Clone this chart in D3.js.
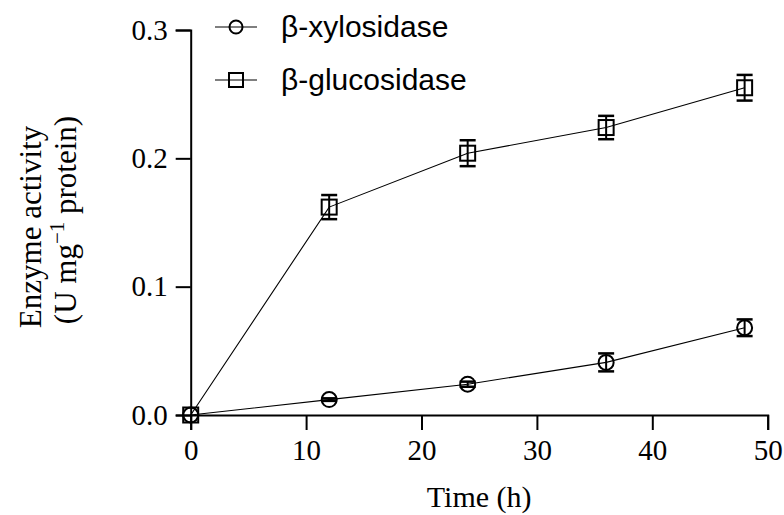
<!DOCTYPE html>
<html><head><meta charset="utf-8">
<script src="https://cdn.jsdelivr.net/npm/d3@7"></script>
<style>body{margin:0;background:#fff}svg{display:block}</style>
</head><body><svg id="c" width="784" height="515"></svg>
<script>
const times = [0, 12, 24, 36, 48];
const xylosidase = [0, 0.012, 0.024, 0.041, 0.068];
const xylosidaseErr = [0, 0.001, 0.002, 0.007, 0.0065];
const glucosidase = [0, 0.162, 0.204, 0.224, 0.255];
const glucosidaseErr = [0, 0.0094, 0.0101, 0.0091, 0.0100];
const xTicks = [0, 10, 20, 30, 40, 50];
const yTicks = [0, 0.1, 0.2, 0.3];
const seriesNames = ["β-xylosidase", "β-glucosidase"];

const svg = d3.select("#c");
const x = d3.scaleLinear().domain([0, 50]).range([190.7, 767.7]);
const y = d3.scaleLinear().domain([0, 0.3]).range([415, 30]);
const serif = "'Liberation Serif','Times New Roman',serif";
const sans = "'Liberation Sans',Arial,sans-serif";

const xa = svg.append("g").attr("transform", `translate(0,${y(0)})`)
  .call(d3.axisBottom(x).tickValues(xTicks).tickSize(15).tickPadding(9).tickFormat(d3.format("d")));
const ya = svg.append("g").attr("transform", `translate(${x(0)},0)`)
  .call(d3.axisLeft(y).tickValues(yTicks).tickSize(15).tickPadding(8).tickFormat(d3.format(".1f")));
[xa, ya].forEach(a => {
  a.select(".domain").attr("stroke", "#000").attr("stroke-width", 2);
  a.selectAll(".tick line").attr("stroke", "#000").attr("stroke-width", 2);
  a.selectAll(".tick text").attr("font-family", serif).attr("font-size", 29).attr("fill", "#000");
});

svg.append("text").attr("x", (x(0) + x(50)) / 2).attr("y", 507).attr("text-anchor", "middle")
  .attr("font-family", serif).attr("font-size", 30).text("Time (h)");
const yt = svg.append("text").attr("transform", "rotate(-90)")
  .attr("text-anchor", "middle").attr("font-family", serif).attr("font-size", 31);
yt.append("tspan").attr("x", -227).attr("y", 41).text("Enzyme activity");
const t2 = yt.append("tspan").attr("x", -220).attr("y", 76);
t2.append("tspan").text("(U mg");
t2.append("tspan").attr("dy", -12).attr("font-size", 21).text("−1");
t2.append("tspan").attr("dy", 12).text(" protein)");

const series = [
  {name: seriesNames[0], vals: xylosidase, err: xylosidaseErr, shape: "circle"},
  {name: seriesNames[1], vals: glucosidase, err: glucosidaseErr, shape: "square"}
];
const line = d3.line().x((d, i) => x(times[i])).y(d => y(d));

function marker(g, shape, cx, cy, s) {
  if (shape === "circle") g.append("circle").attr("cx", cx).attr("cy", cy).attr("r", s)
    .attr("fill", "none").attr("stroke", "#000").attr("stroke-width", 2);
  else g.append("rect").attr("x", cx - s).attr("y", cy - s).attr("width", 2*s).attr("height", 2*s)
    .attr("fill", "none").attr("stroke", "#000").attr("stroke-width", 2);
}

series.forEach(s => {
  const g = svg.append("g");
  g.append("path").datum(s.vals).attr("d", line).attr("fill", "none").attr("stroke", "#000").attr("stroke-width", 1.1);
  s.vals.forEach((v, i) => {
    const cx = x(times[i]);
    if (s.err[i] > 0) {
      const y1 = y(v + s.err[i]), y2 = y(v - s.err[i]);
      g.append("line").attr("x1", cx).attr("x2", cx).attr("y1", y1).attr("y2", y2).attr("stroke", "#000").attr("stroke-width", 2);
      [y1, y2].forEach(yy => g.append("line").attr("x1", cx - 8).attr("x2", cx + 8).attr("y1", yy).attr("y2", yy).attr("stroke", "#000").attr("stroke-width", 2.5));
    }
    marker(g, s.shape, cx, y(v), 7.5);
  });
});

// legend
const leg = svg.append("g");
series.forEach((s, i) => {
  const ly = 27 + i * 53;
  leg.append("line").attr("x1", 215).attr("x2", 257).attr("y1", ly).attr("y2", ly).attr("stroke", "#000").attr("stroke-width", 1.1);
  marker(leg, s.shape, 236, ly, s.shape === "circle" ? 6.5 : 7);
  leg.append("text").attr("x", 281).attr("y", ly + 10).attr("font-family", sans).attr("font-size", 30).text(s.name);
});
</script></body></html>
